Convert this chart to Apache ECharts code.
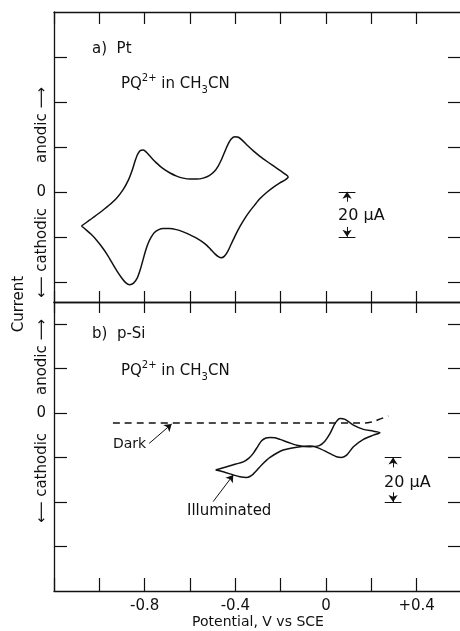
<!DOCTYPE html>
<html>
<head>
<meta charset="utf-8">
<script src="https://cdn.jsdelivr.net/npm/echarts@6/dist/echarts.min.js"></script>
<style>
  html, body { margin: 0; padding: 0; background: #fff; }
  #cv { width: 460px; height: 631px; }
</style>
</head>
<body>
<div id="cv"></div>
<script>
  // potential in V vs SCE, current in uA (anodic positive)

  // a) Pt, PQ2+ in CH3CN -- anodic sweep from the left vertex, then back
  var ptV = [-1.079, -1.042, -1.000, -0.960, -0.924, -0.895, -0.872, -0.855, -0.843, -0.832, -0.820, -0.806,
    -0.792, -0.772, -0.748, -0.720, -0.690, -0.659, -0.630, -0.600, -0.570, -0.542, -0.515, -0.493, -0.475,
    -0.460, -0.446, -0.432, -0.418, -0.402, -0.386, -0.368, -0.345, -0.318, -0.290, -0.260, -0.230, -0.200,
    -0.180, -0.167,
    -0.180, -0.205, -0.233, -0.262, -0.291, -0.315, -0.336, -0.358, -0.380, -0.400, -0.418, -0.434, -0.449,
    -0.462, -0.475, -0.490, -0.508, -0.527, -0.550, -0.575, -0.602, -0.630, -0.660, -0.690, -0.718, -0.740,
    -0.758, -0.772, -0.785, -0.797, -0.808, -0.820, -0.833, -0.849, -0.866, -0.884, -0.902, -0.924, -0.946,
    -0.968, -0.990, -1.012, -1.035, -1.057, -1.079];
  var ptI = [-15.2, -12.5, -9.4, -6.2, -2.8, 1.0, 5.2, 9.6, 13.5, 16.5, 18.3, 18.6,
    17.6, 15.4, 12.9, 10.4, 8.5, 7.0, 6.1, 5.7, 5.7, 6.1, 7.2, 9.0, 11.6,
    14.6, 18.0, 21.2, 23.5, 24.5, 24.3, 22.8, 20.5, 18.0, 15.7, 13.5, 11.4, 9.3,
    7.9, 6.6,
    5.3, 3.9, 2.0, -0.3, -3.0, -5.9, -8.6, -11.8, -15.5, -19.4, -23.2, -26.6, -28.7,
    -29.3, -28.8, -27.6, -25.7, -23.7, -21.9, -20.4, -19.0, -17.8, -16.8, -16.3, -16.3, -16.9,
    -18.2, -20.3, -23.0, -26.5, -30.5, -34.8, -38.4, -40.6, -41.3, -40.4, -38.2, -34.9, -31.2,
    -27.5, -24.3, -21.5, -19.0, -17.0, -15.2];

  // b) p-Si, illuminated
  var siV = [-0.487, -0.438, -0.394, -0.365, -0.340, -0.321, -0.300, -0.284, -0.265, -0.247, -0.225, -0.203,
    -0.165, -0.129, -0.071, -0.030, -0.005, 0.018, 0.040, 0.062, 0.084, 0.121, 0.165, 0.209, 0.238,
    0.209, 0.165, 0.121, 0.091, 0.069, 0.047, 0.003, -0.041, -0.071, -0.129, -0.189, -0.247, -0.284,
    -0.321, -0.350, -0.380, -0.409, -0.453, -0.487];
  var siI = [-25.6, -24.1, -22.8, -21.9, -20.2, -18.1, -14.8, -12.4, -11.2, -10.9, -11.1, -11.8,
    -13.2, -14.4, -15.1, -14.6, -12.6, -9.1, -4.6, -2.4, -2.8, -5.4, -7.3, -8.1, -8.8,
    -9.9, -11.8, -15.1, -18.9, -19.9, -19.6, -17.4, -15.4, -14.8, -15.3, -16.6, -19.9, -23.3,
    -27.4, -28.9, -28.6, -27.8, -26.4, -25.6];

  // b) p-Si, dark
  var darkV = [-0.94, 0.17, 0.20, 0.23, 0.275];
  var darkI = [-4.4, -4.4, -4.0, -3.0, -1.2];

  var xLabelValues = [-0.8, -0.4, 0, 0.4];
  var xLabelText = ['-0.8', '-0.4', '0', '+0.4'];
  var yTicksTop = [-40, -20, 0, 20, 40, 60];
  var yTicksBottom = [-60, -40, -20, 0, 20, 40];

  // 20 uA scale bars: [potential, from, to]
  var scaleTop = [0.093, 0, -20];
  var scaleBottom = [0.296, -20, -40];
  // pointer arrows [tail, head]
  var darkArrow = [[-0.78, -13.6], [-0.681, -4.9]];
  var illumArrow = [[-0.498, -39.8], [-0.409, -27.8]];

  function zip(a, b) {
    var out = [];
    for (var i = 0; i < a.length; i++) out.push([a[i], b[i]]);
    return out;
  }

  var FONT = 'DejaVu Sans';
  var INK = '#111';

  function scaleBarLines(s) {
    var v = s[0], a = s[1], b = s[2], cap = 0.037, gap = (a - b) * 0.22;
    return [
      [{coord: [v - cap, a], symbol: 'none'}, {coord: [v + cap, a], symbol: 'none'}],
      [{coord: [v - cap, b], symbol: 'none'}, {coord: [v + cap, b], symbol: 'none'}],
      [{coord: [v, a - gap], symbol: 'none'}, {coord: [v, a], symbol: 'arrow'}],
      [{coord: [v, b + gap], symbol: 'none'}, {coord: [v, b], symbol: 'arrow'}]
    ];
  }

  function arrowLine(p) {
    return [[{coord: p[0], symbol: 'none'}, {coord: p[1], symbol: 'arrow'}]];
  }

  function xAxis(grid, pos, tickLen, labels) {
    return {
      type: 'value', gridIndex: grid, position: pos,
      min: -1.2, max: 0.6, interval: 0.2,
      axisLine: {show: true, onZero: false, lineStyle: {color: INK, width: 1.3}},
      axisTick: {show: true, inside: true, length: tickLen, lineStyle: {color: INK, width: 1.2}},
      splitLine: {show: false},
      axisLabel: labels ? {
        show: true, margin: 8, color: INK, fontFamily: FONT, fontSize: 15,
        formatter: function (v) {
          for (var i = 0; i < xLabelValues.length; i++) {
            if (Math.abs(v - xLabelValues[i]) < 1e-6) return xLabelText[i];
          }
          return '';
        }
      } : {show: false},
      name: labels ? 'Potential, V vs SCE' : '',
      nameLocation: 'middle', nameGap: 24,
      nameTextStyle: {color: INK, fontFamily: FONT, fontSize: 14}
    };
  }

  function yAxis(grid, pos, min, max, ticks, tickLen, labels) {
    return {
      type: 'value', gridIndex: grid, position: pos, min: min, max: max,
      axisLine: {show: true, onZero: false, lineStyle: {color: INK, width: 1.3}},
      axisTick: {show: true, inside: true, length: tickLen, customValues: ticks,
        lineStyle: {color: INK, width: 1.2}},
      splitLine: {show: false},
      axisLabel: labels ? {
        show: true, customValues: [0], margin: 8, color: INK, fontFamily: FONT, fontSize: 15,
        formatter: function () { return '0'; }
      } : {show: false}
    };
  }

  function txt(x, y, text, size, extra) {
    var el = {
      type: 'text', x: x, y: y, silent: true,
      style: {text: text, fill: INK, font: size + 'px "' + FONT + '"',
        textAlign: 'left', textVerticalAlign: 'middle', align: 'left', verticalAlign: 'middle'}
    };
    if (extra) {
      for (var k in extra) {
        if (k === 'style') { for (var s in extra.style) el.style[s] = extra.style[s]; }
        else el[k] = extra[k];
      }
    }
    return el;
  }

  function vtxt(x, y, text, size) {
    return txt(x, y, text, size, {rotation: Math.PI / 2,
      style: {textAlign: 'center', align: 'center'}});
  }

  var chemRich = {
    m: {fontFamily: FONT, fontSize: 15, lineHeight: 22, color: INK},
    sup: {fontFamily: FONT, fontSize: 10, lineHeight: 11, verticalAlign: 'top', color: INK},
    sub: {fontFamily: FONT, fontSize: 10, lineHeight: 11, verticalAlign: 'bottom', color: INK}
  };
  var chemText = '{m|PQ}{sup|2+}{m| in CH}{sub|3}{m|CN}';

  var markBase = {
    silent: true, symbolSize: 7, animation: false,
    label: {show: false},
    lineStyle: {color: INK, width: 1, type: 'solid'},
    emphasis: {disabled: true}
  };

  function withData(base, data, extra) {
    var o = {};
    for (var k in base) o[k] = base[k];
    o.data = data;
    if (extra) for (var e in extra) o[e] = extra[e];
    return o;
  }

  var chart = echarts.init(document.getElementById('cv'));
  chart.setOption({
    backgroundColor: '#fff',
    animation: false,
    grid: [
      {left: 54, top: 12, width: 408, height: 290, outerBoundsMode: 'none', containLabel: false},
      {left: 54, top: 302, width: 408, height: 289, outerBoundsMode: 'none', containLabel: false}
    ],
    xAxis: [
      xAxis(0, 'top', 12, false),
      xAxis(0, 'bottom', 11, false),
      xAxis(1, 'top', 11, false),
      xAxis(1, 'bottom', 13, true)
    ],
    yAxis: [
      yAxis(0, 'left', -49, 80, yTicksTop, 13, true),
      yAxis(0, 'right', -49, 80, yTicksTop, 14, false),
      yAxis(1, 'left', -80, 50, yTicksBottom, 13, true),
      yAxis(1, 'right', -80, 50, yTicksBottom, 14, false)
    ],
    series: [
      {
        name: 'Pt', type: 'line', xAxisIndex: 0, yAxisIndex: 0,
        data: zip(ptV, ptI), smooth: 0.25, showSymbol: false, silent: true,
        lineStyle: {color: INK, width: 1.5},
        markLine: withData(markBase, scaleBarLines(scaleTop))
      },
      {
        name: 'Illuminated', type: 'line', xAxisIndex: 2, yAxisIndex: 2,
        data: zip(siV, siI), smooth: 0.25, showSymbol: false, silent: true,
        lineStyle: {color: INK, width: 1.5},
        markLine: withData(markBase, scaleBarLines(scaleBottom).concat(arrowLine(illumArrow)))
      },
      {
        name: 'Dark', type: 'line', xAxisIndex: 2, yAxisIndex: 2,
        data: zip(darkV, darkI), smooth: 0.4, showSymbol: false, silent: true,
        lineStyle: {color: INK, width: 1.5, type: [7, 5]},
        markLine: withData(markBase, arrowLine(darkArrow), {
          lineStyle: {color: INK, width: 1, type: 'solid', curveness: -0.2}
        })
      }
    ],
    graphic: [
      txt(92, 49, 'a)  Pt', 15),
      txt(121, 84, chemText, 15, {style: {rich: chemRich}}),
      txt(92, 334, 'b)  p-Si', 15),
      txt(121, 371, chemText, 15, {style: {rich: chemRich}}),
      txt(338, 216, '20 \u00b5A', 16),
      txt(384, 483, '20 \u00b5A', 16),
      txt(113, 444, 'Dark', 14),
      txt(187, 511, 'Illuminated', 15),
      vtxt(19, 304, 'Current', 15),
      vtxt(42, 125, 'anodic \u27f6', 15),
      vtxt(42, 253, '\u27f5 cathodic', 15),
      vtxt(42, 357, 'anodic \u27f6', 15),
      vtxt(42, 478, '\u27f5 cathodic', 15)
    ]
  });
</script>
</body>
</html>
